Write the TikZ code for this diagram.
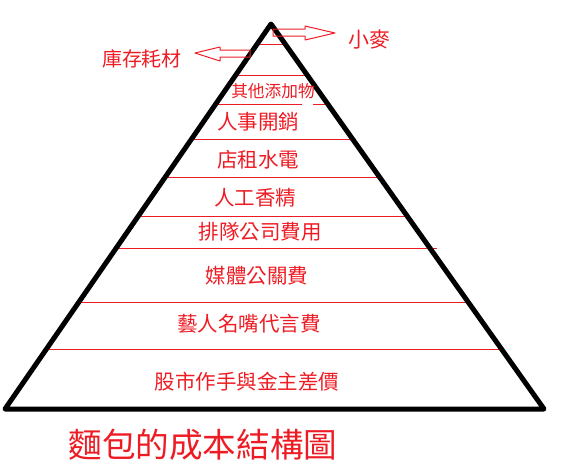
\documentclass[tikz,border=0pt]{standalone}
\usepackage{fontspec}
\newfontfamily\cjk{Noto Sans CJK TC}
\usetikzlibrary{positioning}
\definecolor{paintred}{RGB}{237,28,36}
\begin{document}
\begin{tikzpicture}[x=1pt,y=-1pt,
    layer/.style={draw=paintred, line width=1pt},
    lbl/.style={text=paintred, inner sep=0pt, font=\cjk\fontsize{#1}{#1}\selectfont},
    lbl/.default=20.5,
    blockarrow/.style={draw=paintred, line width=1pt, line join=round}]
  \useasboundingbox (0,0) rectangle (566,469);
  \coordinate (top) at (271,24);
  \coordinate (bl) at (5,409);
  \coordinate (br) at (544,409);
  % cost layers
  \draw[layer] (255,44) -- (285,44);
  \draw[layer] (236,75) -- (309,75);
  \draw[layer] (213,104) -- (302,104) (313,104) -- (328,104);
  \draw[layer] (190,139) -- (353,139);
  \draw[layer] (163,177) -- (380,177);
  \draw[layer] (136,216) -- (409,216);
  \draw[layer] (113,248) -- (437,248);
  \draw[layer] (78,302) -- (470,302);
  \draw[layer] (47,349) -- (500,349);
  \draw[line width=5pt, line join=round] (top) -- (br) -- (bl) -- cycle;
  \node[lbl=16.7] (tianjia) at (273,91) {其他添加物};
  \node[lbl] (renshi) at (258,122) {人事開銷};
  \node[lbl] (dianzu) at (258,160) {店租水電};
  \node[lbl] (xiangjing) at (255,198) {人工香精};
  \node[lbl] (paidui) at (260,232) {排隊公司費用};
  \node[lbl] (meiti) at (257,276) {媒體公關費};
  \node[lbl] (yiren) at (249,324) {藝人名嘴代言費};
  \node[lbl] (gushi) at (247,382) {股市作手與金主差價};
  % side labels
  \node[lbl=20] (kucun) at (142,59) {庫存耗材};
  \node[lbl=21] (xiaomai) at (369,40) {小麥};
  \draw[blockarrow] (273,29) -- (305,29) -- (305,26) -- (335,33) -- (305,40) -- (305,36) -- (273,36) -- cycle;
  \draw[blockarrow] (250,50) -- (220,50) -- (220,47) -- (195,53) -- (220,61) -- (220,57) -- (250,57) -- cycle;
  \node[lbl=33.6] (title) at (203,445) {麵包的成本結構圖};
\end{tikzpicture}
\end{document}
